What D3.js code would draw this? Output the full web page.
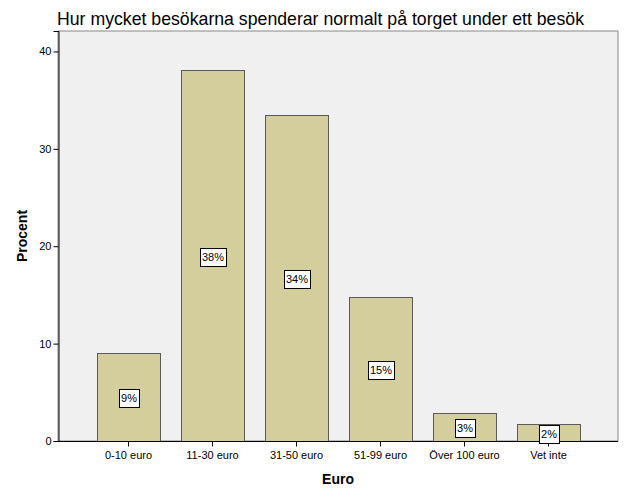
<!DOCTYPE html>
<html><head><meta charset="utf-8">
<script src="https://cdn.jsdelivr.net/npm/d3@7"></script>
<style>body{margin:0;background:#fff}svg{display:block}text{font-family:"Liberation Sans",Arial,sans-serif}</style>
</head><body><svg id="c" width="626" height="501"></svg>
<script>
const categories = ["0-10 euro","11-30 euro","31-50 euro","51-99 euro","Över 100 euro","Vet inte"];
const values = [9.05, 38.05, 33.5, 14.8, 2.9, 1.75];
const valueLabels = ["9%","38%","34%","15%","3%","2%"];
const yTicks = [0,10,20,30,40];
const title = "Hur mycket besökarna spenderar normalt på torget under ett besök";

const svg = d3.select("#c");
const plot = {l:58, r:618, t:31, b:441};
const x = d3.scaleBand().domain(categories).range([86.5,590.5]).paddingInner(0.25).paddingOuter(0.125);
const y = d3.scaleLinear().domain([0,42.1]).range([plot.b, plot.t]);

svg.append("rect").attr("x",plot.l).attr("y",plot.t).attr("width",plot.r-plot.l).attr("height",plot.b-plot.t)
  .attr("fill","#f0f0f0").attr("stroke","#888").attr("stroke-width",1);

svg.append("text").attr("x",57).attr("y",25).attr("font-size",17.7).attr("fill","#000").text(title);

svg.selectAll("rect.bar").data(values).enter().append("rect").attr("class","bar")
  .attr("x",(d,i)=>x(categories[i])+0.5).attr("y",d=>Math.round(y(d))+0.5)
  .attr("width",x.bandwidth()).attr("height",d=>plot.b-Math.round(y(d)))
  .attr("fill","#d3ce9b").attr("stroke","#5a5a5a").attr("stroke-width",1);

// axes
const ya = svg.append("g").attr("transform",`translate(${plot.l+0.5},0)`)
  .call(d3.axisLeft(y).tickValues(yTicks).tickSize(5).tickPadding(2));
ya.select(".domain").attr("stroke","#000");
ya.selectAll("text").attr("font-size",11).attr("font-family","Liberation Sans, Arial, sans-serif").attr("fill","#000");
const xa = svg.append("g").attr("transform",`translate(0,${plot.b+0.5})`)
  .call(d3.axisBottom(x).tickSize(5).tickPadding(5).tickSizeOuter(0));
xa.select(".domain").attr("d",`M${plot.l},0H${plot.r}`).attr("stroke","#000");
xa.selectAll("text").attr("font-size",11).attr("font-family","Liberation Sans, Arial, sans-serif").attr("fill","#000");

// value labels
const lg = svg.selectAll("g.lab").data(values).enter().append("g").attr("class","lab");
lg.each(function(d,i){
  const g = d3.select(this);
  const cx = x(categories[i]) + x.bandwidth()/2 + 0.5;
  const cy = (y(d)+plot.b)/2 + 1.5;
  const t = g.append("text").attr("x",cx).attr("y",cy+4).attr("text-anchor","middle").attr("font-size",11).attr("fill","#000").text(valueLabels[i]);
  const w = t.node().getComputedTextLength();
  g.insert("rect","text").attr("x",Math.round(cx-w/2-2)+0.5).attr("y",Math.round(cy-9)+0.5).attr("width",Math.round(w+4)).attr("height",18)
    .attr("fill","#fff").attr("stroke","#000");
});

svg.append("text").attr("transform","translate(27,236) rotate(-90)").attr("text-anchor","middle")
  .attr("font-size",14).attr("font-weight","bold").text("Procent");
svg.append("text").attr("x",338).attr("y",484).attr("text-anchor","middle")
  .attr("font-size",14).attr("font-weight","bold").text("Euro");
</script></body></html>
